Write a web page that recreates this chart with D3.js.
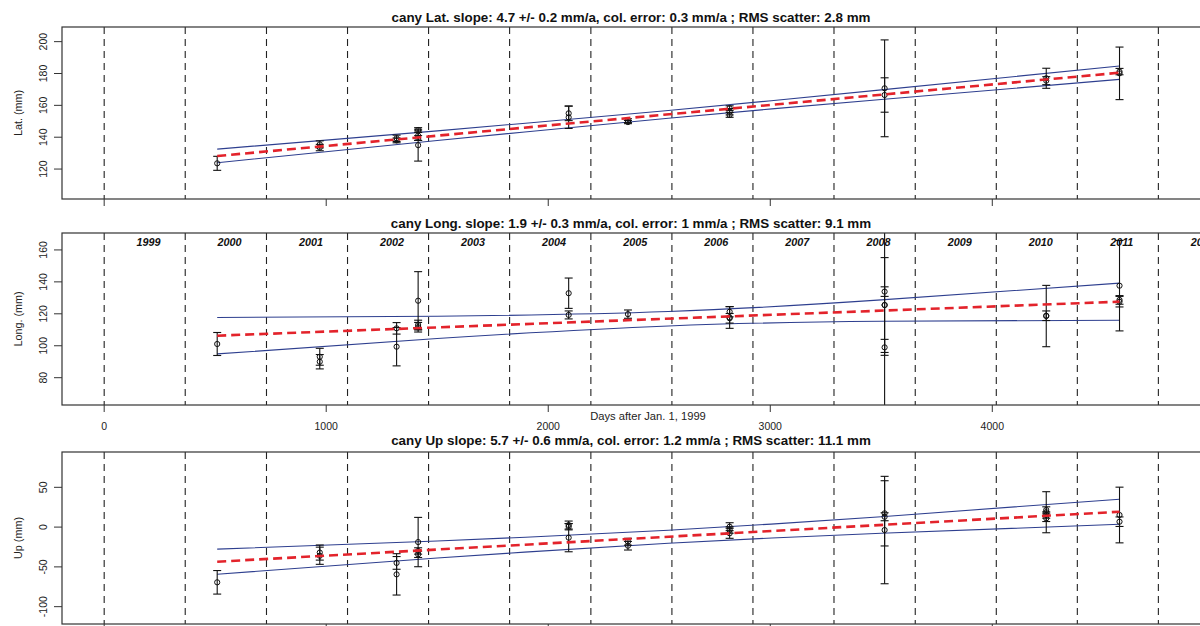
<!DOCTYPE html>
<html><head><meta charset="utf-8">
<script src="https://cdn.jsdelivr.net/npm/d3@7"></script>
<style>
html,body{margin:0;padding:0;background:#fff;}
svg{display:block;font-family:"Liberation Sans",Arial,sans-serif;}
</style></head>
<body>
<script>
// ---------- data ----------
const xTicks = [0, 1000, 2000, 3000, 4000];
const yearStarts = [0, 365, 731, 1096, 1461, 1826, 2192, 2557, 2922, 3287, 3653, 4018, 4383, 4748];
const yearLabels = ["1999","2000","2001","2002","2003","2004","2005","2006","2007","2008","2009","2010","2011","2012"];

const fitDays = [509, 4573];
const bandDays = [509, 1500, 2541, 3500, 4573];

// Lat.
const latTitle = "cany Lat. slope: 4.7 +/- 0.2 mm/a, col. error: 0.3 mm/a ; RMS scatter: 2.8 mm";
const latTicks = [120, 140, 160, 180, 200];
const latDays = [509, 971, 971, 1317, 1317, 1414, 1414, 1414, 1414, 2092, 2092, 2359, 2359, 2817, 2817, 2817, 3515, 3515, 4243, 4243, 4573, 4573];
const latVals = [123.6, 135.5, 133.5, 139.3, 138.0, 144.5, 139.5, 135.0, 141.0, 155.0, 152.5, 150.4, 149.5, 158.2, 154.0, 156.0, 170.7, 166.5, 177.0, 175.5, 181.2, 180.1];
const latErrs = [4.4, 2.2, 2.0, 2.0, 1.5, 1.5, 1.5, 10.0, 3.0, 4.6, 7.0, 1.2, 1.0, 1.5, 1.5, 2.0, 30.4, 10.8, 6.3, 2.5, 2.0, 16.5];
const latFit = [128.2, 180.5];
const latUpper = [132.5, 144.0, 156.8, 169.7, 184.7];
const latLower = [124.0, 137.9, 151.9, 163.7, 176.3];

// Long.
const lonTitle = "cany Long. slope: 1.9 +/- 0.3 mm/a, col. error: 1 mm/a ; RMS scatter: 9.1 mm";
const lonTicks = [80, 100, 120, 140, 160];
const lonDays = [509, 971, 971, 1317, 1317, 1414, 1414, 1414, 2092, 2092, 2359, 2817, 2817, 2817, 3515, 3515, 3515, 3515, 4243, 4243, 4573, 4573, 4573];
const lonVals = [101.1, 93.1, 90.0, 99.4, 110.9, 128.2, 113.0, 111.6, 132.9, 119.3, 119.8, 121.3, 117.2, 117.7, 133.9, 125.5, 125.5, 99.0, 118.6, 118.8, 137.6, 128.7, 127.6];
const lonErrs = [7.2, 5.3, 4.5, 12.0, 3.6, 18.2, 3.0, 3.0, 9.5, 2.5, 2.6, 3.2, 3.0, 6.8, 3.0, 29.7, 75.0, 5.0, 19.2, 3.0, 28.3, 2.7, 3.3];
const lonFit = [106.3, 127.6];
const lonUpper = [117.7, 118.5, 121.4, 128.7, 139.2];
const lonLower = [94.9, 104.5, 112.4, 115.3, 116.0];

// Up
const upTitle = "cany Up slope: 5.7 +/- 0.6 mm/a, col. error: 1.2 mm/a ; RMS scatter: 11.1 mm";
const upTicks = [-100, -50, 0, 50];
const upDays = [509, 971, 971, 1317, 1317, 1414, 1414, 1414, 2092, 2092, 2092, 2359, 2359, 2817, 2817, 2817, 3515, 3515, 3515, 4243, 4243, 4243, 4243, 4573, 4573];
const upVals = [-69.4, -32.0, -36.0, -45.0, -59.4, -18.8, -30.0, -34.2, 2.6, 0.5, -13.3, -18.4, -23.4, 0.5, -3.7, -7.8, 17.3, 13.0, -3.7, 21.5, 15.2, 18.7, 11.0, 15.2, 6.8];
const upErrs = [14.8, 9.5, 10.8, 8.0, 26.0, 31.0, 4.0, 4.0, 5.0, 4.0, 17.7, 4.3, 5.4, 5.0, 4.0, 6.3, 41.0, 5.0, 67.5, 4.0, 4.0, 25.8, 4.0, 35.0, 6.0];
const upFit = [-43.5, 19.3];
const upUpper = [-27.7, -17.5, -3.9, 13.1, 35.1];
const upLower = [-59.3, -38.9, -20.3, -7.7, 3.5];

// ---------- layout ----------
const W = 1200, H = 626;
const svg = d3.select("body").append("svg").attr("width", W).attr("height", H);
const x = d3.scaleLinear().domain([-190, 4940]).range([62, 1201]);

const panels = [
  {title: latTitle, ylab: "Lat. (mm)", ticks: latTicks, dom: [101.2, 209.2], top: 27, bottom: 199, titleY: 17,
   days: latDays, vals: latVals, errs: latErrs, fit: latFit, up: latUpper, lo: latLower},
  {title: lonTitle, ylab: "Long. (mm)", ticks: lonTicks, dom: [62.9, 170.6], top: 233, bottom: 405, titleY: 223,
   days: lonDays, vals: lonVals, errs: lonErrs, fit: lonFit, up: lonUpper, lo: lonLower, years: true, xlabels: true},
  {title: upTitle, ylab: "Up (mm)", ticks: upTicks, dom: [-121.8, 94.4], top: 452, bottom: 624, titleY: 440,
   days: upDays, vals: upVals, errs: upErrs, fit: upFit, up: upUpper, lo: upLower}
];

panels.forEach((p, i) => {
  const y = d3.scaleLinear().domain(p.dom).range([p.bottom, p.top]);
  const g = svg.append("g");
  const cid = "clip" + i;
  svg.append("clipPath").attr("id", cid).append("rect")
    .attr("x", x.range()[0]).attr("y", p.top)
    .attr("width", x.range()[1] - x.range()[0]).attr("height", p.bottom - p.top);

  // title
  g.append("text").attr("x", 631).attr("y", p.titleY).attr("text-anchor", "middle")
    .attr("dominant-baseline", "central").attr("font-weight", "bold").attr("font-size", 13.4)
    .attr("fill", "#111").text(p.title);

  const inner = g.append("g").attr("clip-path", `url(#${cid})`);

  // year boundaries
  inner.selectAll("line.yr").data(yearStarts).join("line")
    .attr("x1", d => x(d)).attr("x2", d => x(d)).attr("y1", p.top).attr("y2", p.bottom)
    .attr("stroke", "#222").attr("stroke-width", 1.1).attr("stroke-dasharray", "7,5");

  if (p.years) {
    inner.selectAll("text.yl").data(yearLabels).join("text")
      .attr("x", (d, k) => x(yearStarts[k] + 200)).attr("y", 242)
      .attr("text-anchor", "middle").attr("dominant-baseline", "central")
      .attr("font-size", 10.8).attr("font-weight", "bold").attr("font-style", "italic")
      .attr("fill", "#111").text(d => d);
  }

  // confidence band
  const bandLine = d3.line().x(d => x(d[0])).y(d => y(d[1])).curve(d3.curveNatural);
  [p.up, p.lo].forEach(arr => {
    inner.append("path").datum(bandDays.map((d, k) => [d, arr[k]]))
      .attr("d", bandLine).attr("fill", "none").attr("stroke", "#2e3f8f").attr("stroke-width", 1.1);
  });

  // error bars
  const pts = p.days.map((d, k) => ({d, v: p.vals[k], e: p.errs[k]}));
  const eb = inner.append("g").attr("stroke", "#111").attr("stroke-width", 1.1);
  pts.forEach(o => {
    const xx = x(o.d), y1 = y(o.v + o.e), y2 = y(o.v - o.e);
    eb.append("line").attr("x1", xx).attr("x2", xx).attr("y1", y1).attr("y2", y2);
    eb.append("line").attr("x1", xx - 4).attr("x2", xx + 4).attr("y1", y1).attr("y2", y1);
    eb.append("line").attr("x1", xx - 4).attr("x2", xx + 4).attr("y1", y2).attr("y2", y2);
  });
  inner.append("g").selectAll("circle").data(pts).join("circle")
    .attr("cx", o => x(o.d)).attr("cy", o => y(o.v)).attr("r", 2.6)
    .attr("fill", "none").attr("stroke", "#111").attr("stroke-width", 1);

  // fit line
  inner.append("path").datum(fitDays.map((d, k) => [d, p.fit[k]]))
    .attr("d", d3.line().x(d => x(d[0])).y(d => y(d[1])))
    .attr("fill", "none").attr("stroke", "#e3232b").attr("stroke-width", 2.6)
    .attr("stroke-dasharray", "9,5");

  // box
  g.append("rect").attr("x", x.range()[0]).attr("y", p.top)
    .attr("width", x.range()[1] - x.range()[0]).attr("height", p.bottom - p.top)
    .attr("fill", "none").attr("stroke", "#333").attr("stroke-width", 1.2);

  // y axis
  const ya = g.append("g");
  p.ticks.forEach(t => {
    ya.append("line").attr("x1", 54).attr("x2", 62).attr("y1", y(t)).attr("y2", y(t))
      .attr("stroke", "#333").attr("stroke-width", 1);
    ya.append("text").attr("transform", `translate(42.5,${y(t)}) rotate(-90)`)
      .attr("text-anchor", "middle").attr("dominant-baseline", "central")
      .attr("font-size", 10.5).attr("fill", "#222").text(t);
  });
  g.append("text").attr("transform", `translate(17.5,${(p.top + p.bottom) / 2}) rotate(-90)`)
    .attr("text-anchor", "middle").attr("dominant-baseline", "central")
    .attr("font-size", 10.8).attr("fill", "#222").text(p.ylab);

  // x axis ticks
  xTicks.forEach(t => {
    g.append("line").attr("x1", x(t)).attr("x2", x(t)).attr("y1", p.bottom).attr("y2", p.bottom + 7)
      .attr("stroke", "#333").attr("stroke-width", 1);
    if (p.xlabels) {
      g.append("text").attr("x", x(t)).attr("y", 425.5).attr("text-anchor", "middle")
        .attr("dominant-baseline", "central").attr("font-size", 10.5).attr("fill", "#222").text(t);
    }
  });
  if (p.xlabels) {
    g.append("text").attr("x", 648).attr("y", 416).attr("text-anchor", "middle")
      .attr("dominant-baseline", "central").attr("font-size", 11.2).attr("fill", "#222")
      .text("Days after Jan. 1,  1999");
  }
});
</script>
</body></html>
